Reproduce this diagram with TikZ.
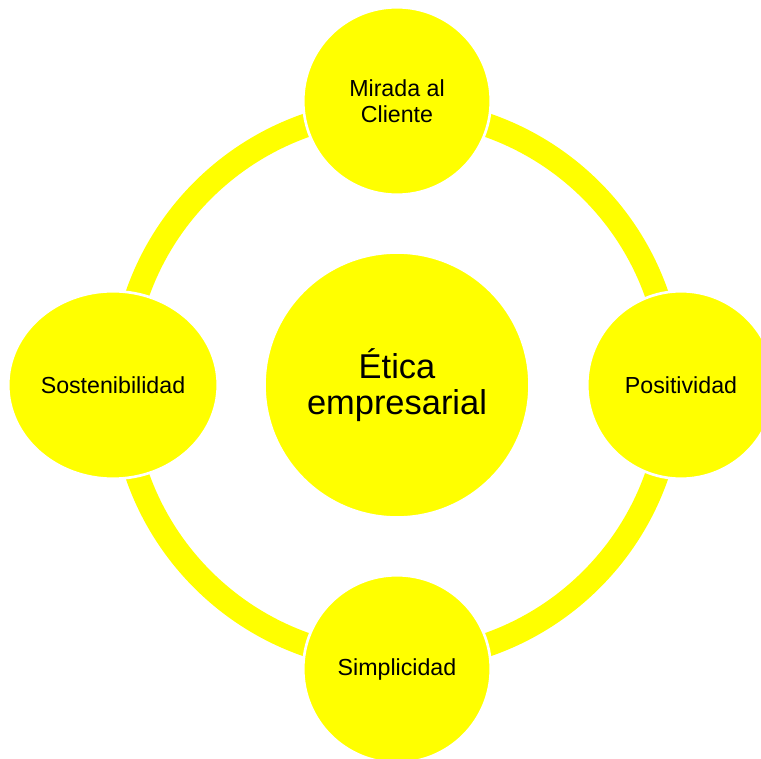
\documentclass[tikz,border=0pt]{standalone}
\usepackage{fontspec}
\setmainfont{Liberation Sans}
\usetikzlibrary{shapes.geometric}
\definecolor{ethicyellow}{RGB}{255,255,0}

\begin{document}
\begin{tikzpicture}[node distance=5.68cm,
    topic/.style={ellipse,fill=ethicyellow,draw=white,line width=1.5pt,inner sep=0pt,
      minimum width=3.75cm,minimum height=3.75cm,align=center,
      font=\fontsize{13.2}{14.7}\selectfont},
    ring/.style={draw=ethicyellow,line width=13.5pt}]
      \useasboundingbox (-7.94,-7.46) rectangle (7.28,7.70);
      \node (etica) [topic,minimum width=5.3cm,minimum height=5.3cm,
        font=\fontsize{19.6}{20.4}\selectfont] {Ética\\empresarial};
      \draw[ring] (etica.center) circle (5.5cm);
      \node (mirada) [topic,above of=etica] {Mirada al\\Cliente};
      \node (positividad) [topic,right of=etica] {Positividad};
      \node (simplicidad) [topic,below of=etica] {Simplicidad};
      \node (sostenibilidad) [topic,left of=etica,minimum width=4.19cm] {Sostenibilidad};
    \end{tikzpicture}
\end{document}
